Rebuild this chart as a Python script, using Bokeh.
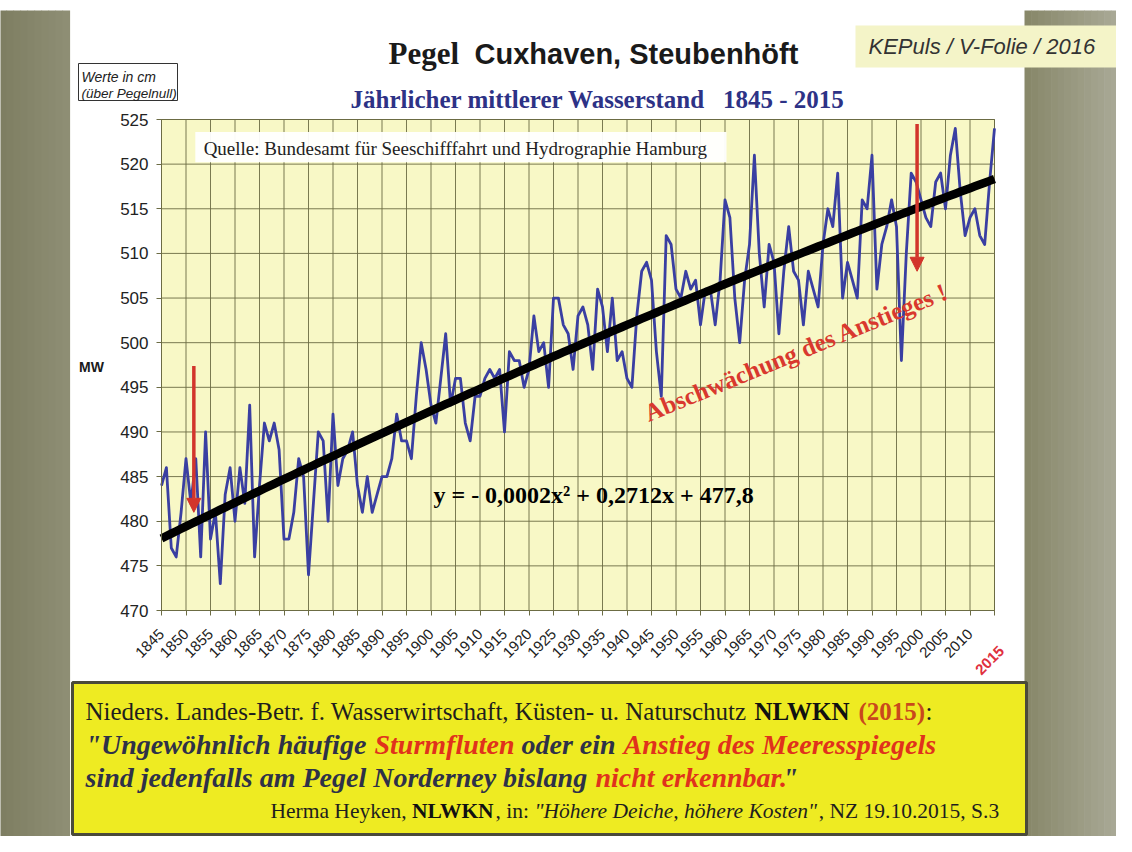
import math
from bokeh.plotting import figure
from bokeh.models import (Range1d, FixedTicker, BoxAnnotation, Label, Arrow,
                          NormalHead, ColumnDataSource, LinearAxis)
from bokeh.embed import file_html
from bokeh.resources import INLINE

# ---------------- data ----------------
years = list(range(1845, 2016))
mw = [
    484, 486, 477, 476, 481, 487, 482, 487, 476, 490,   # 1845-1854
    478, 481, 473, 483, 486, 480, 486, 482, 493, 476,   # 1855-1864
    484, 491, 489, 491, 488, 478, 478, 481, 487, 485,   # 1865-1874
    474, 482, 490, 489, 480, 492, 484, 487, 488, 490,   # 1875-1884
    484, 481, 485, 481, 483, 485, 485, 487, 492, 489,   # 1885-1894
    489, 487, 494, 500, 497, 493, 491, 496, 501, 493,   # 1895-1904
    496, 496, 491, 489, 494, 494, 496, 497, 496, 497,   # 1905-1914
    490, 499, 498, 498, 495, 497, 503, 499, 500, 495,   # 1915-1924
    505, 505, 502, 501, 497, 503, 504, 502, 497, 506,   # 1925-1934
    504, 499, 505, 498, 499, 496, 495, 503, 508, 509,   # 1935-1944
    507, 499, 494, 512, 511, 506, 505, 508, 506, 507,   # 1945-1954
    502, 506, 506, 502, 507, 516, 514, 505, 500, 507,   # 1955-1964
    511, 521, 510, 504, 511, 509, 501, 508, 513, 508,   # 1965-1974
    507, 502, 508, 506, 504, 511, 515, 513, 519, 505,   # 1975-1984
    509, 507, 505, 516, 515, 521, 506, 511, 513, 516,   # 1985-1994
    513, 498, 510, 519, 518, 516, 514, 513, 518, 519,   # 1995-2004
    515, 521, 524, 517, 512, 514, 515, 512, 511, 518,   # 2005-2014
    524,                                                # 2015
]
trend_coef = [-0.0002, 0.2712, 477.8]   # y = a x^2 + b x + c, x = year index from 1
x_ticks = list(range(1845, 2016, 5))
y_ticks = list(range(470, 526, 5))
arrow_years = [1851.6, 1999.2]
arrow_top = [497.4, 524.5]
arrow_tip = [481.0, 508.0]

trend = [trend_coef[0] * (y - 1844) ** 2 + trend_coef[1] * (y - 1844) + trend_coef[2] for y in years]

# ---------------- canvas / plot-rectangle geometry (pixels) ----------------
W, H = 1116, 836
PL, PR, PT, PB = 161, 994, 119, 610          # plot rectangle on the canvas
X0, X1, Y0, Y1 = 1845, 2015, 470, 525
kx = (X1 - X0) / (PR - PL)
ky = (Y1 - Y0) / (PB - PT)
x_range = Range1d(X0 - PL * kx, X1 + (W - PR) * kx)
y_range = Range1d(Y0 - (H - PB) * ky, Y1 + PT * ky)

p = figure(width=W, height=H, x_range=x_range, y_range=y_range,
           x_axis_type=None, y_axis_type=None,
           output_backend="svg", toolbar_location=None,
           min_border=0, min_border_left=0, min_border_right=0,
           min_border_top=0, min_border_bottom=0)
p.border_fill_color = "white"
p.background_fill_color = "white"
p.outline_line_color = None

grid_col = "#6C6C44"

def X(px):
    return px

def Y(py):
    return H - py

def box(x0, y0, x1, y1, fill, line=None, lw=1, level="underlay"):
    p.add_layout(BoxAnnotation(left=X(x0), right=X(x1), top=Y(y0), bottom=Y(y1),
                               left_units="screen", right_units="screen",
                               top_units="screen", bottom_units="screen",
                               fill_color=fill, fill_alpha=1.0 if fill else 0.0,
                               line_color=line, line_alpha=1.0, line_width=lw, level=level))

def lab(px, py, text, size, font="Liberation Serif", style="normal", color="#222222",
        align="left", baseline="middle", angle=0.0):
    p.add_layout(Label(x=X(px), y=Y(py), x_units="screen", y_units="screen", text=text,
                       text_font=font, text_font_size=f"{size}px", text_font_style=style,
                       text_color=color, text_align=align, text_baseline=baseline, angle=angle))

def mix(c1, c2, t):
    a = [int(c1[i:i + 2], 16) for i in (1, 3, 5)]
    b = [int(c2[i:i + 2], 16) for i in (1, 3, 5)]
    return "#" + "".join(f"{round(a[k] + (b[k] - a[k]) * t):02x}" for k in range(3))

def gradient_band(x0, x1, c0, c1, steps):
    w = (x1 - x0) / steps
    for i in range(steps):
        box(x0 + i * w, 10, x0 + (i + 1) * w + 0.6, 860, mix(c0, c1, i / max(steps - 1, 1)))

# ---------------- slide background bands ----------------
gradient_band(-1, 69, "#7E7E62", "#8E8E74", 10)
gradient_band(1024, 1117, "#88886A", "#A8A895", 14)

# ---------------- plot area ----------------
p.add_layout(BoxAnnotation(left=X0, right=X1, bottom=Y0, top=Y1, fill_color="#F8F8C6",
                           fill_alpha=1.0, line_color=grid_col, line_alpha=1.0, line_width=1,
                           level="underlay"))
p.segment(x0=x_ticks, y0=Y0, x1=x_ticks, y1=Y1, line_color=grid_col, line_alpha=0.9, line_width=1)
p.segment(x0=X0, y0=y_ticks, x1=X1, y1=y_ticks, line_color=grid_col, line_alpha=0.9, line_width=1)

xaxis = LinearAxis(fixed_location=Y0, bounds=(X0, X1), ticker=FixedTicker(ticks=x_ticks))
yaxis = LinearAxis(fixed_location=X0, bounds=(Y0, Y1), ticker=FixedTicker(ticks=y_ticks))
for ax in (xaxis, yaxis):
    ax.axis_line_color = grid_col
    ax.major_tick_line_color = grid_col
    ax.major_tick_out = 5
    ax.major_tick_in = 0
    ax.minor_tick_line_color = None
    ax.major_label_text_font = "Liberation Sans"
    ax.major_label_text_color = "#222222"
xaxis.major_label_orientation = math.pi / 4
xaxis.major_label_text_font_size = "15px"
xaxis.major_label_standoff = 16
xaxis.major_label_overrides = {2015: ""}
yaxis.major_label_text_font_size = "17px"
yaxis.major_label_standoff = 8
p.add_layout(xaxis, "below")
p.add_layout(yaxis, "left")

src = ColumnDataSource(data=dict(year=years, mw=mw, trend=trend))
p.line("year", "mw", source=src, line_color="#3A3FA2", line_width=2.8, line_join="round")
p.line("year", "trend", source=src, line_color="black", line_width=8.5)

# ---------------- titles ----------------
lab(388, 53, "Pegel", 31, style="bold", color="#1a1a1a", baseline="alphabetic")
lab(474, 53, "Cuxhaven, Steubenhöft", 29, font="Liberation Sans", style="bold",
    color="#1a1a1a", baseline="alphabetic")
lab(350, 99, "Jährlicher mittlerer Wasserstand\u00a0\u00a0 1845 - 2015", 25, style="bold",
    color="#2D3286", baseline="alphabetic")

box(855, 25, 1120, 67, "#F4F4C8")
lab(868, 46, "KEPuls / V-Folie / 2016", 22, font="Liberation Sans", style="italic", color="#333333")

box(78, 63, 177, 100, "white", line="#333333", lw=1)
lab(81, 76, "Werte in cm", 14, font="Liberation Sans", style="italic", color="#222222")
lab(81, 93, "(über Pegelnull)", 13.5, font="Liberation Sans", style="italic", color="#222222")

lab(91, 366, "MW", 14, font="Liberation Sans", style="bold", color="#1a1a1a", align="center")

# red label of the last year
lab(1001, 648, "2015", 15, font="Liberation Sans", style="bold", color="#E0303E",
    align="right", baseline="middle", angle=math.pi / 4)

# ---------------- annotations inside the plot ----------------
p.add_layout(BoxAnnotation(left=1851.9, right=1960.3, top=523.6, bottom=520.2,
                           fill_color="white", fill_alpha=0.95, line_color=None))
p.add_layout(Label(x=1853.6, y=521.8, text="Quelle: Bundesamt für Seeschifffahrt und Hydrographie Hamburg",
                   text_font="Liberation Serif", text_font_size="19px", text_color="#222222",
                   text_baseline="middle"))

p.add_layout(Label(x=1900.5, y=482.9, text="y =  - 0,0002x² + 0,2712x + 477,8",
                   text_font="Liberation Serif", text_font_size="24px", text_font_style="bold",
                   text_color="black", text_baseline="middle"))

p.add_layout(Label(x=1943.8, y=492.0, text="Abschwächung des Anstieges !", angle=0.39,
                   text_font="Liberation Serif", text_font_size="25px", text_font_style="bold",
                   text_color="#D9382E", text_baseline="alphabetic"))

red = "#D2352B"
for xa, ya, yb in zip(arrow_years, arrow_top, arrow_tip):
    p.add_layout(Arrow(end=NormalHead(size=14, fill_color=red, line_color=red, line_width=1),
                       x_start=xa, y_start=ya, x_end=xa, y_end=yb,
                       line_color=red, line_width=3.5))

# ---------------- bottom quote box ----------------
box(72, 682, 1026, 834, "#EEEB22", line="#4A4A3A", lw=3)
dark = "#2E3148"
qred = "#E0321C"
lab(85, 711, "Nieders. Landes-Betr. f. Wasserwirtschaft, Küsten- u. Naturschutz", 25, color="#1e1e1e")
lab(754, 711, "NLWKN", 25, style="bold", color="#111111")
lab(858, 711, "(2015)", 25, style="bold", color="#C9481C")
lab(925, 711, ":", 25, color="#1e1e1e")

lab(85, 744, "\"Ungewöhnlich häufige", 28, style="bold italic", color=dark)
lab(374, 744, "Sturmfluten", 28, style="bold italic", color=qred)
lab(521, 744, "oder ein", 28, style="bold italic", color=dark)
lab(623, 744, "Anstieg des Meeresspiegels", 28, style="bold italic", color=qred)

lab(85, 777, "sind jedenfalls am Pegel Norderney bislang", 28, style="bold italic", color=dark)
lab(595, 777, "nicht erkennbar.", 28, style="bold italic", color=qred)
lab(782, 777, "\"", 28, style="bold italic", color=dark)

lab(270, 810, "Herma Heyken,", 21.5, color="#1e1e1e")
lab(411.5, 810, "NLWKN", 21.5, style="bold", color="#111111")
lab(495.1, 810, ", in:", 21.5, color="#1e1e1e")
lab(533.9, 810, "\"Höhere Deiche, höhere Kosten\"", 21.5, style="italic", color="#1e1e1e")
lab(818.3, 810, ", NZ 19.10.2015, S.3", 21.5, color="#1e1e1e")

open("out.html", "w").write(file_html(p, INLINE))
